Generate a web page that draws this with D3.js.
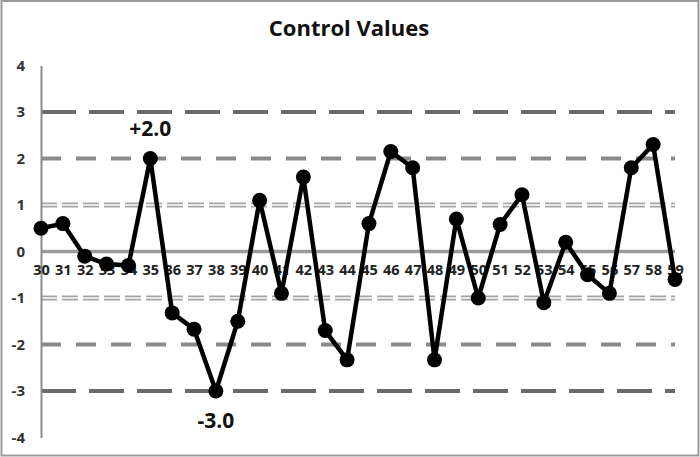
<!DOCTYPE html>
<html><head><meta charset="utf-8">
<script src="https://cdn.jsdelivr.net/npm/d3@7"></script>
<style>body{margin:0;background:#fff}svg{display:block}</style>
</head><body>
<script>
const categories = d3.range(30, 60).map(String);
const values = [0.5,0.6,-0.1,-0.27,-0.3,2.0,-1.32,-1.67,-3.0,-1.5,1.1,-0.9,1.6,-1.7,-2.33,0.6,2.15,1.8,-2.33,0.7,-1.0,0.58,1.22,-1.1,0.2,-0.5,-0.9,1.8,2.3,-0.6];
const yTicks = [-4,-3,-2,-1,0,1,2,3,4];
const controlLimits = [
  {v:3, kind:"three"},{v:-3, kind:"three"},
  {v:2, kind:"two"},{v:-2, kind:"two"},
  {v:1, kind:"one"},{v:-1, kind:"one"},
  {v:0, kind:"zero"}
];
const annotations = [{cat:"35", v:2.0, text:"+2.0", dy:-28},{cat:"38", v:-3.0, text:"-3.0", dy:31}];
const title = "Control Values";

const W=700,H=457;
const svg=d3.select("body").append("svg").attr("width",W).attr("height",H);
svg.append("rect").attr("x",1.5).attr("y",1).attr("width",W-3).attr("height",H-2.5)
  .attr("fill","#fff").attr("stroke","#9a9a9a").attr("stroke-width",2);

const x=d3.scalePoint().domain(categories).range([41,675]);
const y=d3.scaleLinear().domain([-4,4]).range([437.5,65.5]);
const font="'Open Sans', Lato, sans-serif";

svg.append("text").attr("x",349).attr("y",30).attr("text-anchor","middle").attr("dominant-baseline","middle")
  .attr("font-family",font).attr("font-weight",700).attr("font-size",22).attr("fill","#111").text(title);

const x0=x(categories[0]), x1=x(categories[categories.length-1]);
const g=svg.append("g");
controlLimits.forEach(c=>{
  const yy=y(c.v);
  if(c.kind==="zero"){
    g.append("line").attr("x1",x0).attr("x2",x1).attr("y1",yy).attr("y2",yy)
      .attr("stroke","#9a9a9a").attr("stroke-width",3.5);
  } else if(c.kind==="three"){
    g.append("line").attr("x1",x0).attr("x2",x1).attr("y1",yy).attr("y2",yy)
      .attr("stroke","#6a6a6a").attr("stroke-width",4).attr("stroke-dasharray","35,13");
  } else if(c.kind==="two"){
    g.append("line").attr("x1",x0).attr("x2",x1).attr("y1",yy).attr("y2",yy)
      .attr("stroke","#8a8a8a").attr("stroke-width",4).attr("stroke-dasharray","20,15");
  } else {
    [-1.6,1.6].forEach(o=>{
      g.append("line").attr("x1",x0).attr("x2",x1).attr("y1",yy+o).attr("y2",yy+o)
        .attr("stroke","#a5a5a5").attr("stroke-width",1.6).attr("stroke-dasharray","16,5");
    });
  }
});

// y axis
const yAxis=d3.axisLeft(y).tickValues(yTicks).tickSize(0).tickPadding(16).tickFormat(d=>String(d));
const ya=svg.append("g").attr("transform",`translate(${x0},0)`).call(yAxis);
ya.select(".domain").attr("stroke","#8c8c8c").attr("stroke-width",2);
ya.selectAll("text").attr("font-family",font).attr("font-weight",700).attr("font-size",15).attr("fill","#333");

// x labels at zero line
const xAxis=d3.axisBottom(x).tickSize(0).tickPadding(13);
const xa=svg.append("g").attr("transform",`translate(0,${y(0)})`).call(xAxis);
xa.select(".domain").remove();
xa.selectAll("text").attr("font-family",font).attr("font-weight",700).attr("font-size",14.5).attr("fill","#222");

// series
const data=categories.map((c,i)=>({c,v:values[i]}));
svg.append("path").datum(data).attr("fill","none").attr("stroke","#000").attr("stroke-width",4.5)
  .attr("stroke-linejoin","round")
  .attr("d",d3.line().x(d=>x(d.c)).y(d=>y(d.v)));
svg.selectAll("circle.pt").data(data).join("circle").attr("class","pt")
  .attr("cx",d=>x(d.c)).attr("cy",d=>y(d.v)).attr("r",7.5).attr("fill","#000");

annotations.forEach(a=>{
  svg.append("text").attr("x",x(a.cat)).attr("y",y(a.v)+a.dy).attr("text-anchor","middle")
    .attr("dominant-baseline","middle")
    .attr("font-family",font).attr("font-weight",700).attr("font-size",21).attr("fill","#111").text(a.text);
});
</script>
</body></html>
